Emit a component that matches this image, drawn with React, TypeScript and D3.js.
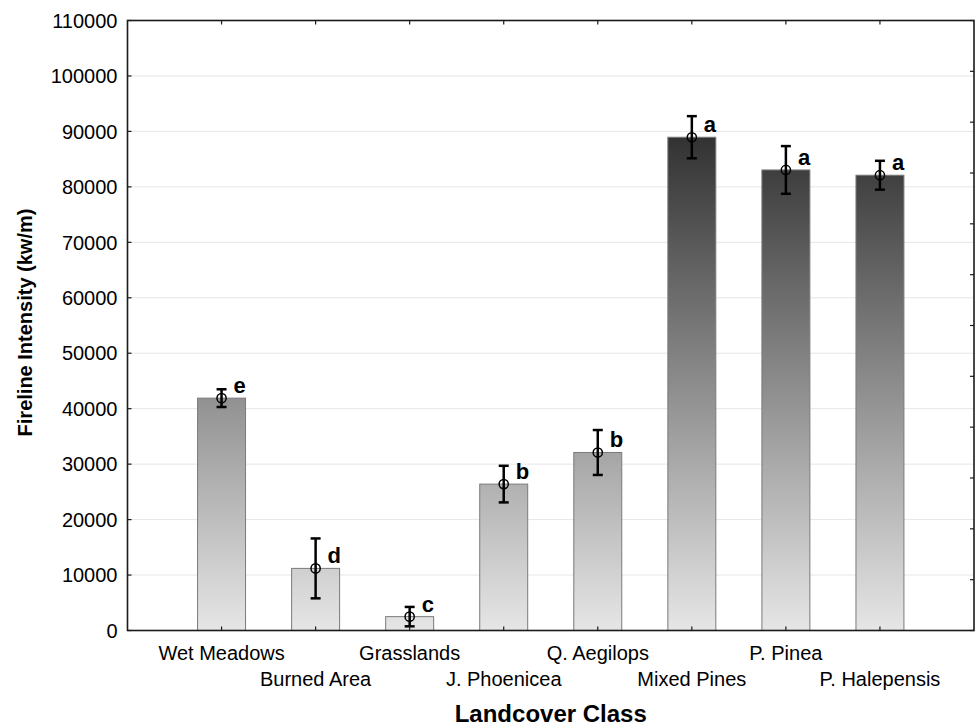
import React, { useEffect, useRef } from 'react';
import * as d3 from 'd3';

const categories = [
  'Wet Meadows', 'Burned Area', 'Grasslands', 'J. Phoenicea',
  'Q. Aegilops', 'Mixed Pines', 'P. Pinea', 'P. Halepensis',
];
const means = [41900, 11200, 2500, 26400, 32100, 88950, 83050, 82100];
const errors = [1600, 5400, 1750, 3300, 4050, 3800, 4300, 2600];
const groups = ['e', 'd', 'c', 'b', 'b', 'a', 'a', 'a'];
const yTicks = d3.range(0, 110001, 10000);

const W = 976;
const H = 726;
const FONT = '"Liberation Sans", Arial, sans-serif';

const App = () => {
  const ref = useRef<SVGSVGElement | null>(null);

  useEffect(() => {
    if (!ref.current) return;
    const svg = d3.select(ref.current);
    svg.selectAll('*').remove();

    const left = 127.5;
    const right = 974;
    const top = 20.5;
    const bottom = 630.5;

    // slots 0..9, categories sit on 1..8
    const x = d3.scaleLinear().domain([0, categories.length + 1]).range([left, right]);
    const y = d3.scaleLinear().domain([0, 110000]).range([bottom, top]);
    // the right frame carries its own unlabelled 12-step scale
    const yRight = d3.scaleLinear().domain([0, 12]).range([bottom, top]);
    const barW = (x(1) - x(0)) * 0.51;

    const defs = svg.append('defs');
    const grad = defs.append('linearGradient')
      .attr('id', 'barGrad')
      .attr('gradientUnits', 'userSpaceOnUse')
      .attr('x1', 0).attr('x2', 0)
      .attr('y1', y(90000)).attr('y2', y(0));
    grad.append('stop').attr('offset', '0%').attr('stop-color', '#303030');
    grad.append('stop').attr('offset', '100%').attr('stop-color', '#e6e6e6');

    // grid
    svg.append('g')
      .selectAll('line')
      .data(yTicks.filter(d => d > 0 && d < 110000))
      .enter().append('line')
      .attr('x1', left).attr('x2', right)
      .attr('y1', d => y(d)).attr('y2', d => y(d))
      .attr('stroke', '#e6e6e6')
      .attr('stroke-width', 1);

    // bars
    svg.append('g')
      .selectAll('rect')
      .data(means)
      .enter().append('rect')
      .attr('x', (_, i) => x(i + 1) - barW / 2)
      .attr('y', d => y(d))
      .attr('width', barW)
      .attr('height', d => y(0) - y(d))
      .attr('fill', 'url(#barGrad)')
      .attr('stroke', '#7a7a7a')
      .attr('stroke-width', 1);

    // error bars
    const eb = svg.append('g').attr('stroke', '#000').attr('fill', 'none');
    means.forEach((m, i) => {
      const cx = x(i + 1);
      const lo = y(m - errors[i]);
      const hi = y(m + errors[i]);
      eb.append('line').attr('x1', cx).attr('x2', cx).attr('y1', hi).attr('y2', lo).attr('stroke-width', 2.5);
      eb.append('line').attr('x1', cx - 5).attr('x2', cx + 5).attr('y1', hi).attr('y2', hi).attr('stroke-width', 2.5);
      eb.append('line').attr('x1', cx - 5).attr('x2', cx + 5).attr('y1', lo).attr('y2', lo).attr('stroke-width', 2.5);
      eb.append('circle').attr('cx', cx).attr('cy', y(m)).attr('r', 4.6).attr('stroke-width', 1.5);
    });

    // group letters
    svg.append('g')
      .selectAll('text')
      .data(groups)
      .enter().append('text')
      .attr('x', (_, i) => x(i + 1) + 12)
      .attr('y', (_, i) => y(means[i]) - 5)
      .attr('font-family', FONT)
      .attr('font-size', 22)
      .attr('font-weight', 'bold')
      .attr('fill', '#000')
      .text(d => d);

    // frame
    const frame = svg.append('g').attr('stroke', '#1a1a1a').attr('stroke-width', 1.6);
    frame.append('rect')
      .attr('x', left).attr('y', top)
      .attr('width', right - left).attr('height', bottom - top)
      .attr('fill', 'none');

    // inward ticks
    const tickLen = 4;
    frame.selectAll('.lt').data(yTicks).enter().append('line')
      .attr('x1', left).attr('x2', left + tickLen)
      .attr('y1', d => y(d)).attr('y2', d => y(d)).attr('stroke-width', 1.2);
    frame.selectAll('.rt').data(yRight.ticks(12)).enter().append('line')
      .attr('x1', right - tickLen).attr('x2', right)
      .attr('y1', d => yRight(d)).attr('y2', d => yRight(d)).attr('stroke-width', 1.2);
    frame.selectAll('.bt').data(categories).enter().append('line')
      .attr('x1', (_, i) => x(i + 1)).attr('x2', (_, i) => x(i + 1))
      .attr('y1', bottom).attr('y2', bottom - tickLen).attr('stroke-width', 1.2);
    frame.selectAll('.tt').data(categories).enter().append('line')
      .attr('x1', (_, i) => x(i + 1)).attr('x2', (_, i) => x(i + 1))
      .attr('y1', top).attr('y2', top + tickLen).attr('stroke-width', 1.2);

    // y tick labels
    svg.append('g')
      .selectAll('text')
      .data(yTicks)
      .enter().append('text')
      .attr('x', left - 10)
      .attr('y', d => y(d))
      .attr('dy', '0.36em')
      .attr('text-anchor', 'end')
      .attr('font-family', FONT)
      .attr('font-size', 20)
      .attr('fill', '#000')
      .text(d => String(d));

    // category labels, staggered
    svg.append('g')
      .selectAll('text')
      .data(categories)
      .enter().append('text')
      .attr('x', (_, i) => x(i + 1))
      .attr('y', (_, i) => (i % 2 === 0 ? 660 : 686))
      .attr('text-anchor', 'middle')
      .attr('font-family', FONT)
      .attr('font-size', 20)
      .attr('fill', '#000')
      .text(d => d);

    // axis titles
    svg.append('text')
      .attr('x', (left + right) / 2)
      .attr('y', 722)
      .attr('text-anchor', 'middle')
      .attr('font-family', FONT)
      .attr('font-size', 24)
      .attr('font-weight', 'bold')
      .attr('fill', '#000')
      .text('Landcover Class');

    svg.append('text')
      .attr('transform', `translate(32,${(top + bottom) / 2 - 3}) rotate(-90)`)
      .attr('text-anchor', 'middle')
      .attr('font-family', FONT)
      .attr('font-size', 20)
      .attr('font-weight', 'bold')
      .attr('fill', '#000')
      .text('Fireline Intensity (kw/m)');
  }, []);

  return (
    <div style={{ position: 'absolute', left: 0, top: 0, width: W, height: H, background: '#fff' }}>
      <svg ref={ref} width={W} height={H} />
    </div>
  );
};

export default App;
